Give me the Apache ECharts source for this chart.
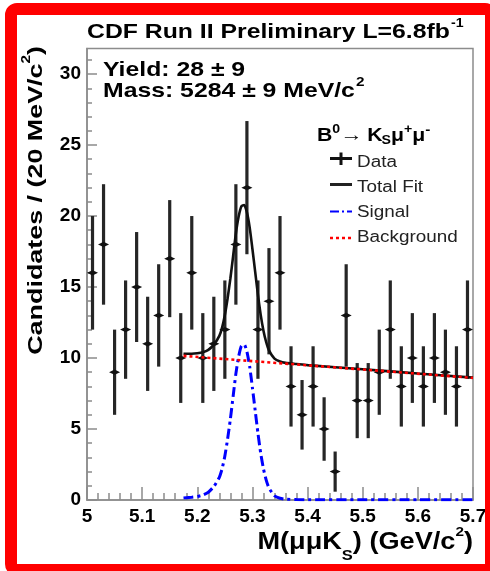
<!DOCTYPE html>
<html>
<head>
<meta charset="utf-8">
<script src="https://cdn.jsdelivr.net/npm/echarts@6/dist/echarts.min.js"></script>
<style>
  html, body { margin: 0; padding: 0; background: #fff; }
  #chart { width: 490px; height: 571px; }
</style>
</head>
<body>
<div id="chart"></div>
<script>
// B0 -> Ks mu+ mu- candidates per 20 MeV/c^2 bin
const binCenters = [5.01, 5.03, 5.05, 5.07, 5.09, 5.11, 5.13, 5.15, 5.17, 5.19,
                    5.21, 5.23, 5.25, 5.27, 5.29, 5.31, 5.33, 5.35, 5.37, 5.39,
                    5.41, 5.43, 5.45, 5.47, 5.49, 5.51, 5.53, 5.55, 5.57, 5.59,
                    5.61, 5.63, 5.65, 5.67, 5.69];
const candidates = [16, 18, 9, 12, 15, 11, 13, 17, 10, 16,
                    10, 11, 12, 18, 22, 12, 14, 16, 8, 6,
                    8, 5, 2, 13, 7, 7, 9, 12, 8, 10,
                    8, 10, 9, 8, 12];
const halfBin = 0.01;

// fitted curves, sampled along the mass axis
const fitMass   = [5.175, 5.19, 5.2, 5.21, 5.22, 5.23, 5.24, 5.245, 5.25, 5.255,
                   5.26, 5.265, 5.27, 5.275, 5.28, 5.285, 5.29, 5.295, 5.3, 5.305,
                   5.31, 5.315, 5.32, 5.325, 5.33, 5.34, 5.35, 5.36, 5.38, 5.4,
                   5.5, 5.6, 5.7];
const totalFit  = [10.3, 10.3, 10.33, 10.4, 10.57, 10.94, 11.56, 12.14, 13.03, 14.21,
                   15.6, 17.18, 18.77, 19.96, 20.69, 20.78, 20.26, 19.2, 17.68, 16.07,
                   14.45, 13.04, 11.92, 11.11, 10.54, 9.96, 9.75, 9.66, 9.58, 9.5,
                   9.21, 8.91, 8.62];
const signalFit = [0.15, 0.2, 0.25, 0.35, 0.55, 0.95, 1.6, 2.2, 3.1, 4.3,
                   5.7, 7.3, 8.9, 10.1, 10.85, 10.95, 10.45, 9.4, 7.9, 6.3,
                   4.7, 3.3, 2.2, 1.4, 0.85, 0.3, 0.12, 0.06, 0.03, 0.02,
                   0.02, 0.02, 0.02];
const bgMass = [5.175, 5.7];
const bgFit  = [10.15, 8.6];

// axis ticks
const xMin = 5, xMax = 5.7, xStep = 0.1;
const yMin = 0, yMax = 31.8;
const yMajorTicks = [0, 5, 10, 15, 20, 25, 30];
const yMinorTicks = Array.from({ length: 32 }, (_, i) => i);

const FONT = '"Liberation Sans", Arial, Helvetica, sans-serif';
const AXIS_GREY = '#8c8c8c';
const TEXT_STRETCH = 1.18;

const measureCtx = document.createElement('canvas').getContext('2d');
function fontOf(p) {
  return (p.bold === false ? '' : 'bold ') + p.size + 'px ' + FONT;
}
function widthOf(p) {
  measureCtx.font = fontOf(p);
  return measureCtx.measureText(p.t).width;
}
// lay out a run of text pieces (with super/subscripts) starting at (x, y)
function textRun(x, y, parts, sx, fill) {
  const out = [];
  let cx = x;
  for (const p of parts) {
    cx += (p.dx || 0) * sx;
    out.push({
      type: 'text', x: cx, y: y + (p.dy || 0), scaleX: sx,
      style: { text: p.t, font: fontOf(p), fill: p.fill || fill || '#000',
               align: 'left', verticalAlign: 'middle' }
    });
    cx += widthOf(p) * sx;
  }
  return out;
}
function runWidth(parts, sx) {
  return parts.reduce((s, p) => s + widthOf(p) + (p.dx || 0), 0) * sx;
}

const graphics = [];
// title
graphics.push(...textRun(87, 32.5, [
  { t: 'CDF Run II Preliminary L=6.8fb', size: 21 },
  { t: '-1', size: 12, dy: -9, dx: 1 }
], TEXT_STRETCH));
// fit results
graphics.push(...textRun(103, 70.5, [{ t: 'Yield: 28 \u00b1 9', size: 21 }], TEXT_STRETCH));
graphics.push(...textRun(103, 91.7, [
  { t: 'Mass: 5284 \u00b1 9 MeV/c', size: 21 },
  { t: '2', size: 13, dy: -9, dx: 1 }
], TEXT_STRETCH));
// legend header
graphics.push(...textRun(317, 136, [
  { t: 'B', size: 18 },
  { t: '0', size: 12, dy: -6 },
  { t: '\u2192', size: 19, bold: false },
  { t: 'K', size: 18, dx: 4 },
  { t: 'S', size: 12, dy: 5, dx: -1 },
  { t: '\u03bc', size: 18 },
  { t: '+', size: 12, dy: -6 },
  { t: '\u03bc', size: 18 },
  { t: '-', size: 13, dy: -6 }
], TEXT_STRETCH));
// legend entries
const legendX = 357;
const legendRows = [
  { label: 'Data', y: 162.5 },
  { label: 'Total Fit', y: 187.5 },
  { label: 'Signal', y: 212.5 },
  { label: 'Background', y: 237.5 }
];
for (const r of legendRows) {
  graphics.push(...textRun(legendX, r.y, [{ t: r.label, size: 16, bold: false }], TEXT_STRETCH, '#222'));
}
graphics.push(
  { type: 'line', shape: { x1: 330, y1: 158.5, x2: 352, y2: 158.5 }, style: { stroke: '#111', lineWidth: 3 } },
  { type: 'line', shape: { x1: 341, y1: 152.5, x2: 341, y2: 165 }, style: { stroke: '#111', lineWidth: 3 } },
  { type: 'line', shape: { x1: 330, y1: 184.5, x2: 352, y2: 184.5 }, style: { stroke: '#222', lineWidth: 3 } },
  { type: 'line', shape: { x1: 330, y1: 211.5, x2: 352, y2: 211.5 }, style: { stroke: '#0000ff', lineWidth: 2, lineDash: [9, 3, 2, 3] } },
  { type: 'line', shape: { x1: 330, y1: 238, x2: 352, y2: 238 }, style: { stroke: '#ff0000', lineWidth: 2.5, lineDash: [3, 3] } }
);
// x axis title
{
  const parts = [
    { t: 'M(\u03bc\u03bcK', size: 23 },
    { t: 'S', size: 14, dy: 14 },
    { t: ') (GeV/c', size: 23 },
    { t: '2', size: 13, dy: -10 },
    { t: ')', size: 23 }
  ];
  graphics.push(...textRun(473 - runWidth(parts, TEXT_STRETCH), 542.5, parts, TEXT_STRETCH));
}
// y axis title, reading upwards
{
  const parts = [
    { t: 'Candidates / (20 MeV/c', size: 21 },
    { t: '2', size: 12, dy: -9 },
    { t: ')', size: 21 }
  ];
  const stretch = 1.28;
  graphics.push({
    type: 'group', x: 36, y: 46 + runWidth(parts, stretch), rotation: Math.PI / 2,
    children: textRun(0, 0, parts, stretch)
  });
}
// red frame
graphics.push({
  type: 'rect', shape: { x: 11, y: 9, width: 480, height: 561, r: 6 },
  style: { fill: 'none', stroke: '#ff0000', lineWidth: 12 }, z: 100
});

const tickStyle = { color: AXIS_GREY, width: 1.5 };
const labelStyle = { fontFamily: FONT, fontWeight: 'bold', fontSize: 19, color: '#000' };

const chart = echarts.init(document.getElementById('chart'), null, { renderer: 'canvas' });
chart.setOption({
  animation: false,
  backgroundColor: '#fff',
  grid: { left: 87, right: 17, top: 48.5, bottom: 71, show: true,
          borderColor: AXIS_GREY, borderWidth: 1.5, backgroundColor: 'transparent' },
  xAxis: {
    type: 'value', min: xMin, max: xMax, interval: xStep,
    axisLine: { show: true, lineStyle: tickStyle },
    axisTick: { show: true, inside: true, length: 13, lineStyle: tickStyle },
    minorTick: { show: true, splitNumber: 5, length: 7, lineStyle: tickStyle },
    axisLabel: Object.assign({ margin: 7, formatter: v => String(+v.toFixed(1)) }, labelStyle),
    splitLine: { show: false }
  },
  yAxis: [{
    type: 'value', min: yMin, max: yMax,
    axisLine: { show: true, lineStyle: tickStyle },
    axisTick: { show: true, inside: true, length: 10, customValues: yMajorTicks, lineStyle: tickStyle },
    axisLabel: Object.assign({ margin: 6, customValues: yMajorTicks }, labelStyle),
    splitLine: { show: false }
  }, {
    type: 'value', min: yMin, max: yMax, position: 'left',
    axisLine: { show: false },
    axisTick: { show: true, inside: true, length: 5, customValues: yMinorTicks, lineStyle: tickStyle },
    axisLabel: { show: false },
    splitLine: { show: false }
  }],
  series: [{
    name: 'Data',
    type: 'custom',
    z: 2,
    encode: { x: 0, y: 1 },
    data: binCenters.map((x, i) => [x, candidates[i], Math.sqrt(candidates[i])]),
    renderItem(params, api) {
      const x = api.value(0), y = api.value(1), e = api.value(2);
      const c = api.coord([x, y]);
      const top = api.coord([x, y + e]);
      const bot = api.coord([x, y - e]);
      const l = api.coord([x - halfBin, y]);
      const r = api.coord([x + halfBin, y]);
      return {
        type: 'group',
        children: [
          { type: 'line', shape: { x1: c[0], y1: top[1], x2: c[0], y2: bot[1] },
            style: { stroke: '#262626', lineWidth: 3.2 } },
          { type: 'polygon',
            shape: { points: [[l[0], c[1]], [c[0], c[1] - 2.6], [r[0], c[1]], [c[0], c[1] + 2.6]] },
            style: { fill: '#111' } }
        ]
      };
    }
  }, {
    name: 'Total Fit', type: 'line', z: 3, showSymbol: false, smooth: 0.2,
    data: fitMass.map((m, i) => [m, totalFit[i]]),
    lineStyle: { color: '#111', width: 2.6 }
  }, {
    name: 'Signal', type: 'line', z: 4, showSymbol: false, smooth: 0.2,
    data: fitMass.map((m, i) => [m, signalFit[i]]),
    lineStyle: { color: '#0000ff', width: 3, type: [10, 4, 3, 4] }
  }, {
    name: 'Background', type: 'line', z: 5, showSymbol: false,
    data: bgMass.map((m, i) => [m, bgFit[i]]),
    lineStyle: { color: '#ff0000', width: 2.6, type: [3, 3] }
  }],
  graphic: graphics
});
</script>
</body>
</html>
